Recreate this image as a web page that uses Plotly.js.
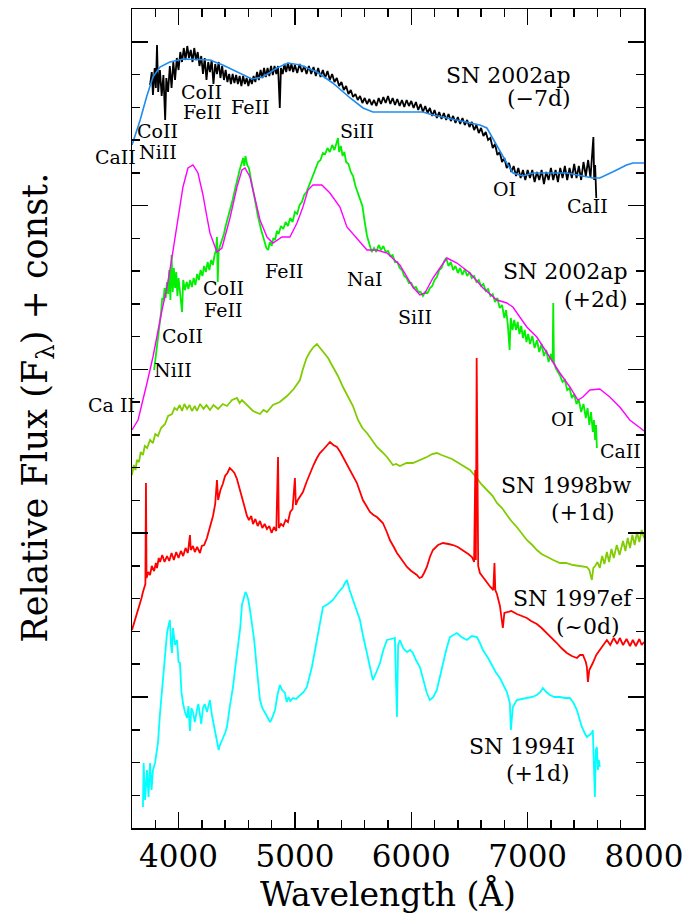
<!DOCTYPE html>
<html><head><meta charset="utf-8">
<script src="https://cdn.plot.ly/plotly-3.0.1.min.js"></script>
<style>html,body{margin:0;padding:0;background:#fff;}#chart{width:691px;height:917px;}</style>
</head><body><div id="chart"></div>
<script>
// SN 2002ap (-7d) observed spectrum
const wl_02ap_m7 = [3755,3770,3780,3795,3805,3815,3825,3840,3855,3870,3885,3895,3910,3925,3940,3955,3970,3985,4000,4015,4030,4045,4060,4075,4090,4105,4120,4135,4150,4165,4180,4195,4210,4225,4240,4255,4270,4285,4300,4315,4330,4345,4360,4375,4390,4405,4420,4435,4450,4465,4480,4495,4510,4525,4540,4555,4570,4585,4600,4615,4630,4645,4660,4675,4690,4705,4720,4735,4750,4765,4780,4795,4810,4825,4840,4855,4870,4880,4895,4910,4925,4940,4955,4970,4985,5000,
5020,5040,5060,5080,5100,5120,5140,5160,5180,5200,5220,5240,5260,5280,5300,5320,5340,5360,5380,5400,5420,5440,5460,5480,5500,5520,5540,5560,5580,5600,5620,5640,5660,5680,5700,5720,5740,5760,5780,5800,5820,5840,5860,5880,5900,5920,5940,5960,5980,6000,6020,6040,6060,6080,6100,6120,6140,6160,6180,6200,6220,6240,6260,6280,6300,6320,6340,6360,6380,6400,6420,6440,6460,6480,6500,6520,6540,6560,6580,6600,6620,6640,6660,6680,6700,6720,6740,6760,6780,6800,6820,6840,6860,6880,6900,6920,6940,6960,6980,7000,7020,7040,7060,7080,7100,7120,7140,7160,7180,7200,7220,7240,7260,7280,7300,7320,7340,7360,7380,7400,7420,7440,7460,7480,7500,7520,7540,
7555,7565,7572,7580,7590];
const fx_02ap_m7 = [743,756,733,760,740,783,736,758,732,753,708,750,736,762,740,766,748,770,758,776,766,780,768,782,770,778,766,780,768,776,762,772,754,770,748,766,756,768,744,764,754,766,750,762,748,758,746,754,744,754,745,753,744,752,742,752,744,750,742,750,744,752,746,756,748,758,750,760,751,760,752,762,753,762,754,762,720,760,754,764,756,765,757,764,756,763,
755,764,756,762,754,762,754,761,752,760,751,758,750,757,748,754,746,750,742,746,738,742,734,738,731,734,728,732,725,730,724,729,723,728,722,730,724,731,725,732,724,730,723,729,722,728,721,728,722,727,720,726,718,724,716,722,715,720,712,718,710,716,709,715,708,714,707,712,705,711,704,710,703,708,701,706,698,703,695,700,692,696,688,690,680,684,673,676,666,670,660,665,656,662,652,660,650,658,648,658,650,658,646,656,648,658,644,656,648,660,648,658,646,660,650,662,648,660,650,664,650,662,648,666,652,668,650,
670,691,648,663,630];

// SN 2002ap (-7d) model
const wl_02ap_m7_model = [3600,3670,3725,3780,3840,3925,4040,4185,4270,4380,4500,4630,4725,4845,4940,5045,5190,5325,5475,5585,5670,5900,6100,6185,6590,6650,6720,6820,6875,6960,7045,7340,7560,7620,7730,7850,7905,8000];
const fx_02ap_m7_model = [683,708,731,751,761,766,769,768,768,763,756,749,751,760,765,763,756,745,730,720,716,716,716,713,703,700,685,665,655,652,655,655,650,650,656,663,665,665];

// SN 2002ap (+2d) observed spectrum
const wl_02ap_p2 = [3790,3800,3810,3820,3830,3840,3850,3860,3870,3880,3890,3900,3910,3920,3930,3940,3950,3960,3970,3980,3990,4000,4015,4030,4040,4055,4070,4085,4100,4115,4130,4145,4160,4175,4190,4205,4220,4235,4250,4265,4280,4295,4310,4322,4330,4337,4345,4360,4375,4390,4405,4420,4435,4450,4465,4480,4495,4510,4525,4540,4555,4565,4575,4590,4605,4620,4635,4650,4665,4680,4695,4710,4725,4740,4755,4770,4785,4800,4815,4830,4845,4860,4880,4900,4920,4940,4960,4980,5000,5020,5040,5060,5080,5100,5120,5140,5160,5180,5200,5220,5240,5260,5280,5300,5320,5340,5360,5370,5380,5395,5410,5425,5440,5460,5480,5500,5520,5540,5560,5580,5600,5620,5640,5660,5680,5700,5720,5740,5760,5780,5800,5820,5840,5860,5880,5900,5920,5940,5960,5980,6000,6020,6040,6060,6080,6100,6120,6140,6160,6180,6200,6220,6240,6260,6280,6300,6320,6340,6360,6380,6400,6420,6440,6460,6480,6500,6520,6540,6560,6580,6600,6620,6640,6660,6680,6700,6720,6740,6760,6780,6800,6815,6830,6845,6855,6870,6885,6900,6915,6930,6945,6960,6975,6990,7005,7020,7040,7060,7080,7100,7120,7140,7160,7180,7200,7215,7220,7226,7240,7260,7280,7300,7320,7340,7360,7380,7400,7420,7440,7460,7480,7500,7515,7530,7545,7560,7570,7580,7588,7595];
const fx_02ap_p2 = [458,468,476,483,493,506,516,530,528,540,530,546,534,558,528,573,536,560,540,556,532,550,536,516,548,538,546,539,548,541,550,543,554,548,558,552,562,556,566,558,568,563,573,578,591,546,578,583,590,594,602,608,614,621,628,636,644,652,658,664,670,662,672,663,660,650,642,632,623,613,604,598,592,587,580,578,586,582,590,588,597,594,602,599,606,602,610,606,616,614,623,626,633,636,642,646,654,658,666,668,675,674,680,676,683,678,685,690,676,682,672,676,666,664,656,652,642,636,628,622,606,592,584,576,580,576,583,578,582,576,577,572,573,566,566,560,558,552,550,545,545,540,541,536,536,532,536,535,540,542,548,551,558,560,566,570,562,566,558,562,555,560,553,559,552,556,550,552,546,548,542,544,537,539,532,534,526,530,520,523,510,518,503,478,510,498,508,498,506,494,502,490,498,486,494,484,492,480,488,476,484,472,478,466,474,466,525,466,460,456,452,446,448,438,440,430,434,424,428,416,424,410,420,403,416,396,408,388,403,380];

// SN 2002ap (+2d) model
const wl_02ap_p2_model = [3600,3652,3729,3780,3858,3901,3944,3995,4038,4081,4124,4167,4210,4244,4270,4330,4373,4442,4502,4545,4571,4614,4657,4700,4760,4811,4889,4957,5018,5069,5112,5155,5232,5301,5387,5447,5619,5705,5791,5902,6014,6074,6117,6186,6306,6392,6504,6616,6736,6822,6873,6933,6993,7079,7165,7277,7363,7432,7475,7535,7620,7706,7792,7878,7990,8000];
const fx_02ap_p2_model = [398,408,445,471,518,541,571,609,641,660,663,655,633,611,595,576,580,610,641,658,660,651,631,608,591,585,591,591,605,621,638,643,643,635,621,601,578,578,575,563,541,533,535,550,570,565,555,540,528,525,521,511,501,491,475,455,441,428,431,438,439,431,421,408,398,397];

// SN 1998bw (+1d)
const wl_98bw = [3600,3615,3630,3643,3660,3675,3694,3710,3730,3755,3780,3800,3823,3850,3884,3910,3944,3965,3987,4010,4030,4050,4073,4095,4115,4140,4158,4185,4215,4240,4270,4300,4340,4380,4416,4460,4502,4525,4545,4588,4640,4700,4730,4760,4811,4870,4932,4990,5043,5069,5100,5129,5160,5189,5215,5241,5285,5327,5370,5413,5455,5499,5542,5580,5619,5660,5705,5750,5791,5842,5870,5902,5960,6014,6080,6134,6180,6220,6260,6306,6350,6392,6450,6504,6564,6600,6650,6700,6736,6780,6822,6860,6907,6950,6993,7040,7079,7120,7165,7220,7277,7330,7389,7450,7509,7530,7552,7565,7580,7600,7620,7640,7660,7681,7700,7720,7740,7766,7790,7820,7840,7860,7880,7900,7920,7940,7960,7980,8000];
const fx_98bw = [353,363,358,368,366,376,373,382,380,388,385,394,392,400,404,412,414,420,418,423,417,424,419,423,417,422,417,424,419,423,418,423,419,424,422,428,430,425,428,423,417,414,418,416,423,426,432,439,448,459,470,476,481,484,480,477,470,461,452,441,432,422,408,400,395,388,381,376,371,363,364,362,365,365,368,371,374,375,373,371,369,366,362,358,350,344,338,332,325,320,313,307,301,294,288,283,278,274,271,268,265,265,263,262,261,258,248,260,262,266,260,272,264,276,266,279,270,283,273,287,277,290,280,293,283,296,286,298,290];

// SN 1997ef (~0d)
const wl_97ef = [3600,3615,3630,3643,3656,3669,3682,3694,3707,3715,3720,3725,3740,3755,3770,3790,3805,3815,3830,3841,3860,3880,3901,3920,3940,3960,3980,4000,4020,4040,4060,4080,4098,4105,4124,4140,4160,4184,4200,4220,4244,4260,4280,4296,4315,4330,4340,4360,4380,4400,4420,4440,4459,4480,4502,4525,4545,4570,4588,4605,4625,4640,4660,4680,4700,4720,4740,4760,4780,4800,4820,4840,4855,4862,4880,4900,4920,4940,4960,4980,5000,5008,5025,5045,5069,5100,5129,5160,5189,5215,5241,5270,5301,5330,5361,5390,5413,5440,5473,5500,5533,5560,5584,5615,5645,5675,5705,5730,5756,5790,5816,5850,5877,5920,5963,6000,6048,6070,6091,6110,6134,6160,6186,6230,6272,6320,6358,6400,6444,6490,6521,6540,6550,6555,6562,6568,6575,6590,6620,6650,6680,6705,6715,6722,6736,6762,6780,6787,6800,6822,6860,6907,6950,6993,7030,7079,7120,7165,7210,7251,7290,7337,7380,7423,7450,7475,7500,7509,7518,7530,7560,7590,7620,7650,7681,7710,7740,7770,7792,7820,7850,7880,7904,7930,7960,7980,8000];
const fx_97ef = [198,204,208,214,218,224,230,236,240,244,345,250,256,253,262,257,265,260,270,266,273,266,272,267,275,268,276,270,277,272,280,275,293,278,282,276,281,275,282,283,290,296,306,312,324,348,328,338,344,352,355,360,358,355,349,340,331,320,312,308,312,304,309,302,307,300,304,299,302,295,301,297,371,300,304,302,308,306,316,319,350,323,328,332,336,346,355,363,370,375,378,382,386,383,381,376,371,365,358,352,345,336,328,322,316,313,311,308,305,296,288,281,275,268,261,257,253,250,251,255,261,271,278,283,285,284,283,281,278,274,271,266,358,268,470,288,262,255,250,245,241,238,265,238,234,222,208,200,215,216,217,214,212,210,207,204,200,195,190,185,180,175,172,170,173,173,166,161,146,158,165,173,178,183,188,183,190,184,190,183,189,182,188,182,189,183,186];

// SN 1994I (+1d)
const wl_94I = [3694,3700,3712,3729,3742,3755,3768,3780,3798,3811,3823,3841,3855,3866,3884,3901,3915,3926,3935,3944,3952,3970,3987,4000,4012,4025,4038,4055,4073,4085,4098,4110,4124,4140,4158,4170,4184,4195,4210,4225,4244,4270,4285,4296,4315,4330,4345,4356,4370,4382,4400,4416,4440,4468,4490,4511,4530,4545,4560,4575,4588,4600,4614,4630,4650,4674,4700,4720,4743,4765,4786,4805,4829,4850,4871,4890,4914,4930,4945,4960,4983,5010,5043,5075,5103,5125,5146,5170,5189,5215,5241,5285,5327,5370,5413,5430,5447,5470,5499,5530,5559,5584,5600,5619,5645,5670,5700,5731,5760,5791,5825,5859,5877,5887,5902,5930,5963,5990,6014,6040,6074,6105,6134,6160,6190,6220,6250,6272,6300,6332,6360,6392,6430,6478,6520,6564,6590,6616,6660,6701,6730,6762,6790,6822,6847,6856,6873,6907,6950,6993,7040,7079,7110,7131,7160,7191,7230,7277,7320,7363,7395,7423,7445,7466,7490,7509,7530,7552,7560,7570,7578,7586,7595,7604,7612,7620];
const fx_94I = [21,65,28,58,31,65,38,58,65,78,85,115,133,148,175,195,203,208,183,175,200,183,188,166,165,136,125,116,110,122,97,120,116,106,118,124,113,104,120,124,116,128,114,108,96,86,78,83,86,90,95,101,121,141,163,181,200,223,231,236,233,228,218,203,188,158,128,120,115,110,106,110,118,133,143,138,135,126,131,127,130,129,133,136,141,150,161,176,188,208,221,224,228,235,241,245,248,238,228,218,208,193,183,175,161,148,156,165,178,188,189,190,111,183,188,180,176,178,175,168,161,148,135,128,131,138,153,165,178,191,193,195,191,188,192,191,185,178,170,161,155,150,143,136,125,98,121,128,129,130,131,133,136,140,136,133,131,131,130,130,125,118,110,101,95,91,93,95,98,68,31,78,81,58,68,61];

// Labels
const specLabels = ['SN 2002ap', '(−7d)', 'SN 2002ap', '(+2d)', 'SN 1998bw', '(+1d)', 'SN 1997ef', '(~0d)', 'SN 1994I', '(+1d)'];
const lineLabels = ['CaII','CoII','NiII','CoII','FeII','FeII','SiII','OI','CaII',
                    'Ca II','NiII','CoII','CoII','FeII','FeII','NaI','SiII','OI','CaII'];
const xTitle = 'Wavelength (Å)';
const yTitle = 'Relative Flux (F<sub>λ</sub>) + const.';

const lw = 1.8;
const traces = [
  {x: wl_02ap_m7, y: fx_02ap_m7, color: '#000000', w: lw},
  {x: wl_02ap_m7_model, y: fx_02ap_m7_model, color: '#1e8cf0', w: 1.6},
  {x: wl_02ap_p2, y: fx_02ap_p2, color: '#00f000', w: lw},
  {x: wl_02ap_p2_model, y: fx_02ap_p2_model, color: '#ff00ff', w: 1.4},
  {x: wl_98bw, y: fx_98bw, color: '#80cc00', w: lw},
  {x: wl_97ef, y: fx_97ef, color: '#ff0000', w: lw},
  {x: wl_94I, y: fx_94I, color: '#00ffff', w: lw}
].map(t => ({x: t.x, y: t.y, type: 'scatter', mode: 'lines', line: {color: t.color, width: t.w}, hoverinfo: 'skip'}));

const SER = 'DejaVu Serif';
function ann(text, x, y, xanchor, size) {
  return {text: text, x: x, y: y, xref: 'x', yref: 'y', xanchor: xanchor || 'center', yanchor: 'middle',
          showarrow: false, font: {family: SER, size: size, color: '#000'}};
}
const S = 22, L = 19;
const annotations = [
  ann(specLabels[0], 7389, 753, 'right', S),
  ann(specLabels[1], 7389, 730, 'right', S),
  ann(specLabels[2], 7878, 557, 'right', S),
  ann(specLabels[3], 7878, 529, 'right', S),
  ann(specLabels[4], 7904, 343, 'right', S),
  ann(specLabels[5], 7767, 316, 'right', S),
  ann(specLabels[6], 7921, 230, 'right', S),
  ann(specLabels[7], 7810, 202, 'right', S),
  ann(specLabels[8], 7423, 82, 'right', S),
  ann(specLabels[9], 7380, 55, 'right', S),
  ann(lineLabels[0], 3652, 671, 'right', L),
  ann(lineLabels[1], 3815, 697, 'center', L),
  ann(lineLabels[2], 3823, 676, 'center', L),
  ann(lineLabels[3], 4201, 736, 'center', L),
  ann(lineLabels[4], 4201, 716, 'center', L),
  ann(lineLabels[5], 4614, 721, 'center', L),
  ann(lineLabels[6], 5533, 697, 'center', L),
  ann(lineLabels[7], 6804, 639, 'center', L),
  ann(lineLabels[8], 7518, 622, 'center', L),
  ann(lineLabels[9], 3643, 423, 'right', L),
  ann(lineLabels[10], 3952, 458, 'center', L),
  ann(lineLabels[11], 4038, 492, 'center', L),
  ann(lineLabels[12], 4382, 540, 'center', L),
  ann(lineLabels[13], 4382, 518, 'center', L),
  ann(lineLabels[14], 4906, 557, 'center', L),
  ann(lineLabels[15], 5602, 549, 'center', L),
  ann(lineLabels[16], 6031, 511, 'center', L),
  ann(lineLabels[17], 7303, 409, 'center', L),
  ann(lineLabels[18], 7801, 377, 'center', L),
  {text: yTitle, x: -0.184, y: 0.513, xref: 'paper', yref: 'paper', xanchor: 'center', yanchor: 'middle',
   textangle: -90, showarrow: false, font: {family: SER, size: 35, color: '#000'}}
];

const tickStyle = {ticks: 'inside', tickcolor: '#000', tickwidth: 1.5, showline: true, linecolor: '#000', linewidth: 1.5,
                   mirror: 'ticks', showgrid: false, zeroline: false};
const layout = {
  width: 691, height: 917,
  margin: {l: 132, r: 47, t: 9, b: 89, pad: 0},
  paper_bgcolor: '#fff', plot_bgcolor: '#fff',
  showlegend: false,
  font: {family: SER, color: '#000'},
  xaxis: Object.assign({}, tickStyle, {
    range: [3600, 8000], tickmode: 'linear', tick0: 4000, dtick: 1000, ticklen: 16,
    tickfont: {family: SER, size: 31, color: '#000'},
    minor: {tick0: 3600, dtick: 200, ticks: 'inside', ticklen: 8, tickwidth: 1.5, tickcolor: '#000', showgrid: false},
    title: {text: xTitle, font: {family: SER, size: 33, color: '#000'}, standoff: 6},
    automargin: false
  }),
  yaxis: Object.assign({}, tickStyle, {
    range: [0, 819], tickmode: 'linear', tick0: 131, dtick: 163.8, ticklen: 16, showticklabels: false,
    minor: {tick0: 131, dtick: 32.76, ticks: 'inside', ticklen: 8, tickwidth: 1.5, tickcolor: '#000', showgrid: false},
    automargin: false
  }),
  annotations: annotations
};
Plotly.newPlot('chart', traces, layout, {displayModeBar: false, staticPlot: true});
</script>
</body></html>
